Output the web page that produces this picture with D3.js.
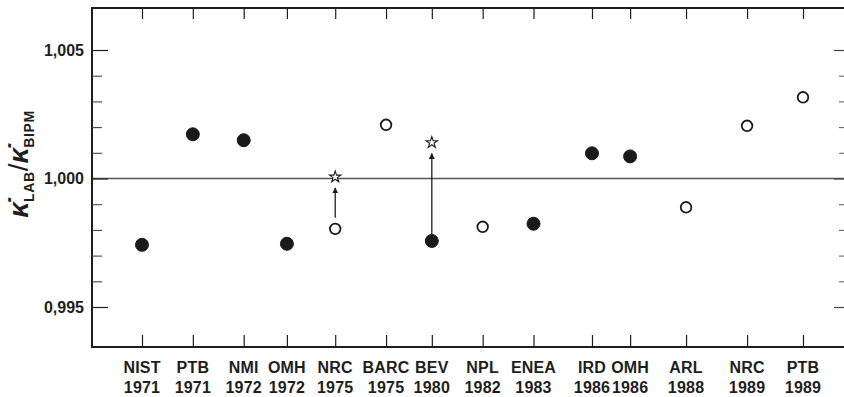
<!DOCTYPE html>
<html><head><meta charset="utf-8">
<script src="https://cdn.jsdelivr.net/npm/d3@7"></script>
<style>html,body{margin:0;padding:0;background:#fff;}svg{display:block;}</style>
</head><body>
<svg id="chart" width="844" height="397"></svg>
<script>
// ---- data ----
const labs      = ["NIST","PTB","NMI","OMH","NRC","BARC","BEV","NPL","ENEA","IRD","OMH","ARL","NRC","PTB"];
const years     = ["1971","1971","1972","1972","1975","1975","1980","1982","1983","1986","1986","1988","1989","1989"];
const slots     = [0, 1, 2, 2.85, 3.8, 4.8, 5.7, 6.7, 7.7, 8.85, 9.6, 10.7, 11.9, 13];
const ratios    = [0.99742, 1.00172, 1.00149, 0.99746, 0.99804, 1.00209, 0.99757, 0.99812, 0.99824, 1.00098, 1.00086, 0.99888, 1.00205, 1.00316];
const filled    = [true, true, true, true, false, false, true, false, true, true, true, false, false, false];
const corrected = [null, null, null, null, 1.00006, null, 1.00140, null, null, null, null, null, null, null];
const majorTicks = [0.995, 1.000, 1.005];
const majorLabels = ["0,995", "1,000", "1,005"];
const minorTicks = [0.996, 0.997, 0.998, 0.999, 1.001, 1.002, 1.003, 1.004];

// ---- layout ----
const L = 92, T = 8, R = 845, B = 347;
const svg = d3.select("#chart");
const x = d3.scaleLinear().domain([0, 13]).range([142, 803]);
const y = d3.scaleLinear().domain([0.995, 1.005]).range([307, 50]);
const ink = "#1e1e1e";
const font = "'Liberation Sans', Arial, Helvetica, sans-serif";

// reference line at 1,000
svg.append("line").attr("x1", L).attr("x2", R).attr("y1", y(1)).attr("y2", y(1))
  .attr("stroke", "#555").attr("stroke-width", 1.4);

// frame
svg.append("path").attr("d", `M${R},${T}H${L}V${B}H${R}`)
  .attr("fill", "none").attr("stroke", ink).attr("stroke-width", 2);

// left axis (ticks inward)
const leftMajor = d3.axisRight(y).tickValues(majorTicks).tickSize(16).tickFormat("");
const gl = svg.append("g").attr("transform", `translate(${L},0)`).call(leftMajor);
gl.select(".domain").remove();
gl.selectAll("line").attr("stroke", ink).attr("stroke-width", 1.2);
const leftMinor = d3.axisRight(y).tickValues(minorTicks).tickSize(10).tickFormat("");
const gl2 = svg.append("g").attr("transform", `translate(${L},0)`).call(leftMinor);
gl2.select(".domain").remove();
gl2.selectAll("line").attr("stroke", "#444").attr("stroke-width", 1.1);

// tick labels on left
svg.append("g").selectAll("text").data(majorTicks).join("text")
  .attr("x", 84).attr("y", d => y(d)).attr("dy", "0.36em")
  .attr("text-anchor", "end").attr("font-family", font).attr("font-weight", "bold")
  .attr("font-size", 16).attr("fill", ink)
  .text((d, i) => majorLabels[i]);

// right axis ticks (inward)
const rightMajor = d3.axisLeft(y).tickValues(majorTicks).tickSize(11).tickFormat("");
const gr = svg.append("g").attr("transform", `translate(${R},0)`).call(rightMajor);
gr.select(".domain").remove();
gr.selectAll("line").attr("stroke", "#444").attr("stroke-width", 1.2);
const rightMinor = d3.axisLeft(y).tickValues(minorTicks).tickSize(6).tickFormat("");
const gr2 = svg.append("g").attr("transform", `translate(${R},0)`).call(rightMinor);
gr2.select(".domain").remove();
gr2.selectAll("line").attr("stroke", "#666").attr("stroke-width", 1.1);

// bottom ticks (upward) and top ticks (downward)
const bottomAx = d3.axisTop(x).tickValues(slots).tickSize(12).tickFormat("");
const gb = svg.append("g").attr("transform", `translate(0,${B})`).call(bottomAx);
gb.select(".domain").remove();
gb.selectAll("line").attr("stroke", ink).attr("stroke-width", 1.2);
const topAx = d3.axisBottom(x).tickValues(slots).tickSize(11).tickFormat("");
const gt = svg.append("g").attr("transform", `translate(0,${T})`).call(topAx);
gt.select(".domain").remove();
gt.selectAll("line").attr("stroke", ink).attr("stroke-width", 1.2);

// category labels
const lab = svg.append("g").attr("font-family", font).attr("font-weight", "bold")
  .attr("font-size", 16).attr("letter-spacing", 0.2).attr("fill", ink).attr("text-anchor", "middle");
lab.selectAll("text.n").data(labs).join("text").attr("class", "n")
  .attr("x", (d, i) => x(slots[i])).attr("y", 373).text(d => d);
lab.selectAll("text.yr").data(years).join("text").attr("class", "yr")
  .attr("x", (d, i) => x(slots[i])).attr("y", 393).text(d => d);

// y-axis title
const title = svg.append("text").attr("transform", "translate(28,164) rotate(-90)")
  .attr("text-anchor", "middle").attr("font-family", font).attr("fill", ink);
title.append("tspan").attr("font-size", 28).attr("font-style", "italic").attr("font-weight", "bold").text("\u03BA\u0307");
title.append("tspan").attr("font-size", 14).attr("font-weight", "bold").attr("letter-spacing", 0.6).attr("dy", 6).text("LAB");
title.append("tspan").attr("font-size", 28).attr("dy", -6).text("/");
title.append("tspan").attr("font-size", 28).attr("font-style", "italic").attr("font-weight", "bold").text("\u03BA\u0307");
title.append("tspan").attr("font-size", 14).attr("font-weight", "bold").attr("letter-spacing", 0.6).attr("dy", 6).text("BIPM");

// arrows and stars
const defs = svg.append("defs");
defs.append("marker").attr("id", "ah").attr("viewBox", "0 0 10 10").attr("refX", 9).attr("refY", 5)
  .attr("markerWidth", 6).attr("markerHeight", 6).attr("markerUnits", "userSpaceOnUse").attr("orient", "auto")
  .append("path").attr("d", "M0,0L10,5L0,10Z").attr("fill", ink);

const idx = d3.range(labs.length);
const corr = idx.filter(i => corrected[i] !== null);
svg.append("g").selectAll("line").data(corr).join("line")
  .attr("x1", i => x(slots[i])).attr("x2", i => x(slots[i]))
  .attr("y1", i => y(ratios[i]) - (filled[i] ? 7 : 11))
  .attr("y2", i => y(corrected[i]) + 11)
  .attr("stroke", ink).attr("stroke-width", 1.3).attr("marker-end", "url(#ah)");
svg.append("g").selectAll("path").data(corr).join("path")
  .attr("transform", i => `translate(${x(slots[i])},${y(corrected[i])})`)
  .attr("d", d3.symbol(d3.symbolStar, 40))
  .attr("fill", "#fff").attr("stroke", ink).attr("stroke-width", 1.1);

// points
svg.append("g").selectAll("circle").data(idx).join("circle")
  .attr("cx", i => x(slots[i])).attr("cy", i => y(ratios[i]))
  .attr("r", i => filled[i] ? 6.5 : 5.3)
  .attr("fill", i => filled[i] ? "#1a1a1a" : "#fff")
  .attr("stroke", "#1a1a1a").attr("stroke-width", i => filled[i] ? 1 : 1.8);
</script>
</body></html>
